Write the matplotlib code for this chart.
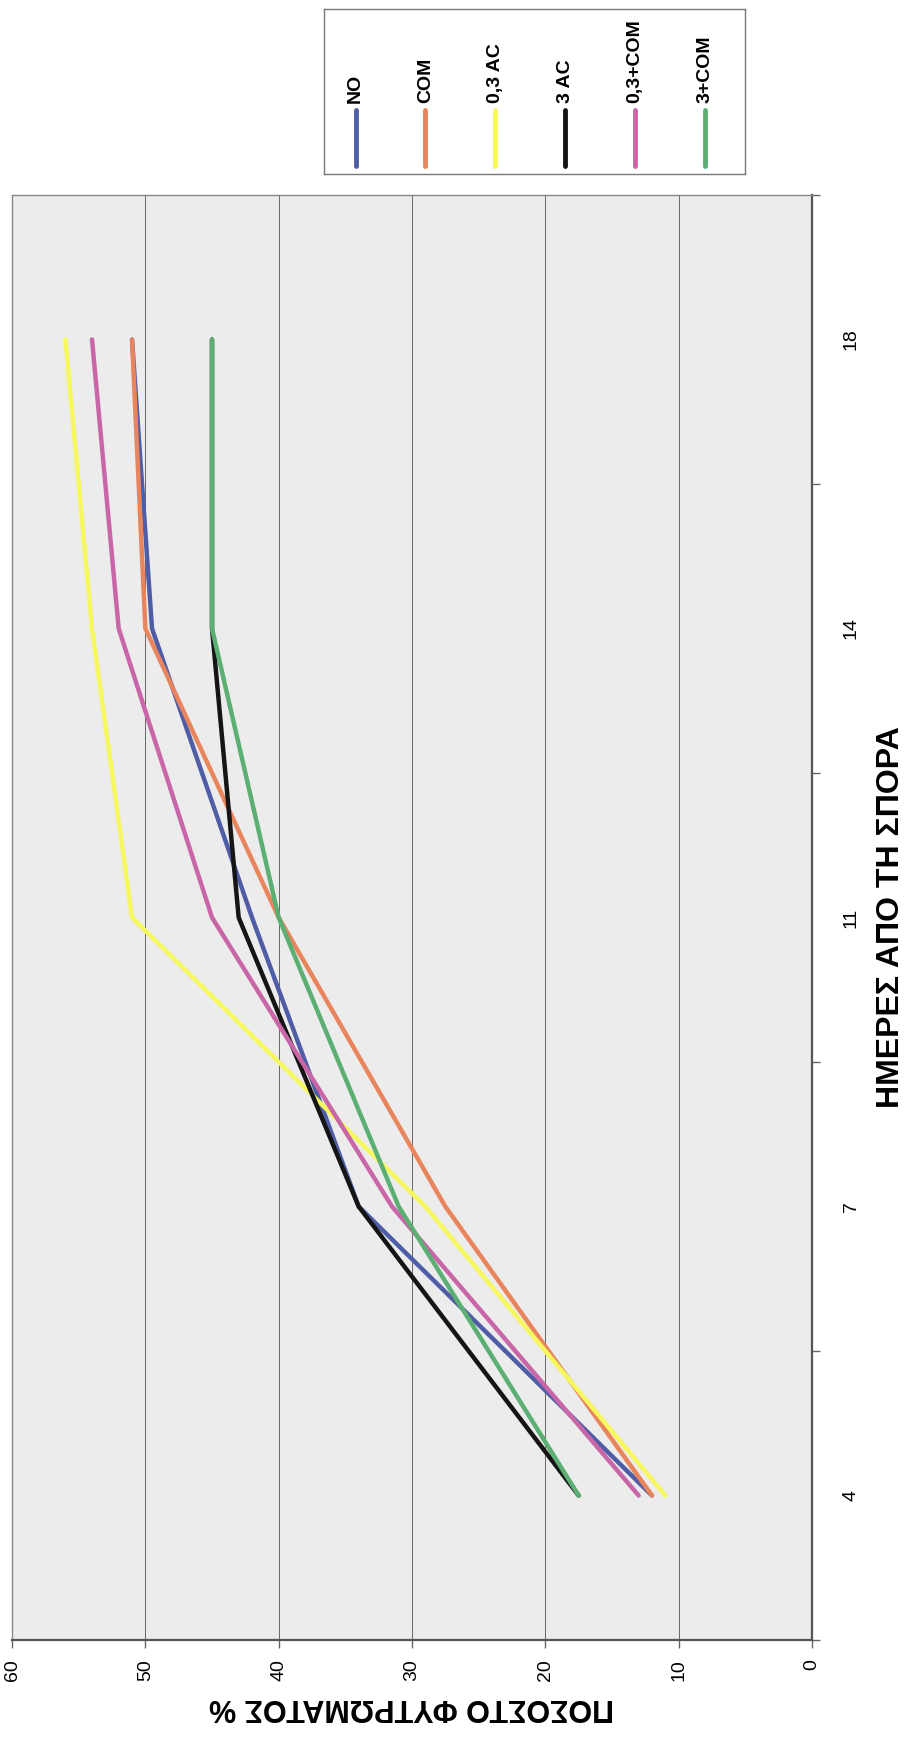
import matplotlib.pyplot as plt
from matplotlib.lines import Line2D

# days after sowing (category axis, drawn vertically: 4 at bottom, 18 on top)
days = ["4", "7", "11", "14", "18"]

# germination percentage per treatment
no_vals = [12, 34, 42, 49.5, 51]
com_vals = [12, 27.5, 40, 50, 51]
ac03_vals = [11, 29, 51, 54, 56]
ac3_vals = [17.5, 34, 43, 45, 45]
ac03_com_vals = [13, 31.5, 45, 52, 54]
ac3_com_vals = [17.5, 31, 40, 45, 45]

names = ["NO", "COM", "0,3 AC", "3 AC", "0,3+COM", "3+COM"]
colors = ["#4F5DA6", "#E8855C", "#F7F75E", "#151515", "#C966A8", "#5BAF72"]
series = [no_vals, com_vals, ac03_vals, ac3_vals, ac03_com_vals, ac3_com_vals]

plt.rcParams['font.family'] = ['Liberation Sans', 'DejaVu Sans']

fig = plt.figure(figsize=(9.11, 17.41), dpi=100)
ax = fig.add_axes([0.0132, 0.058, 0.8781, 0.830])
ax.set_facecolor("#ECECEC")

pos = list(range(len(days)))
for vals, col in zip(series, colors):
    ax.plot(vals, pos, color=col, linewidth=3.2, solid_capstyle='round', zorder=3)

ax.set_xlim(60, 0)
ax.set_ylim(-0.5, len(days) - 0.5)

ax.set_xticks([0, 10, 20, 30, 40, 50, 60])
ax.set_xticklabels(["0", "10", "20", "30", "40", "50", "60"], rotation=90, fontsize=14)
ax.xaxis.grid(True, color="#666666", linewidth=0.7)
ax.set_axisbelow(True)
ax.tick_params(axis='x', direction='out', length=6, width=1, color="#666666", pad=8)

ax.yaxis.tick_right()
ax.set_yticks([p - 0.5 for p in range(len(days) + 1)])
ax.set_yticklabels([])
ax.set_yticks(pos, minor=True)
ax.set_yticklabels(days, minor=True, rotation=90, va='center', fontsize=14)
ax.tick_params(axis='y', which='major', direction='out', length=6, width=1, color="#666666")
ax.tick_params(axis='y', which='minor', length=0, pad=22)

for s in ["top", "left"]:
    ax.spines[s].set_color("#888888")
    ax.spines[s].set_linewidth(1)
for s in ["bottom", "right"]:
    ax.spines[s].set_color("#555555")
    ax.spines[s].set_linewidth(1.6)

ax.set_xlabel("ΠΟΣΟΣΤΟ ΦΥΤΡΩΜΑΤΟΣ %", fontsize=22, fontweight='bold', rotation=180, labelpad=8)
ax.yaxis.set_label_position("right")
ax.set_ylabel("ΗΜΕΡΕΣ ΑΠΟ ΤΗ ΣΠΟΡΑ", fontsize=23, fontweight='bold', rotation=90,
              family=['Liberation Sans Narrow', 'Liberation Sans'], labelpad=12)

# legend box with vertical keys and rotated labels
lax = fig.add_axes([0.3557, 0.900, 0.4621, 0.0948])
lax.set_xlim(0, 1)
lax.set_ylim(0, 1)
lax.set_xticks([])
lax.set_yticks([])
for s in lax.spines.values():
    s.set_color("#777777")
    s.set_linewidth(1)
for i, (name, col) in enumerate(zip(names, colors)):
    x = 0.075 + i * 0.166
    lax.add_line(Line2D([x, x], [0.05, 0.39], color=col, linewidth=3.5, solid_capstyle='round'))
    lax.text(x, 0.43, name, rotation=90, ha='center', va='bottom', fontsize=14, fontweight='bold')

fig.savefig("out.png", dpi=100)
